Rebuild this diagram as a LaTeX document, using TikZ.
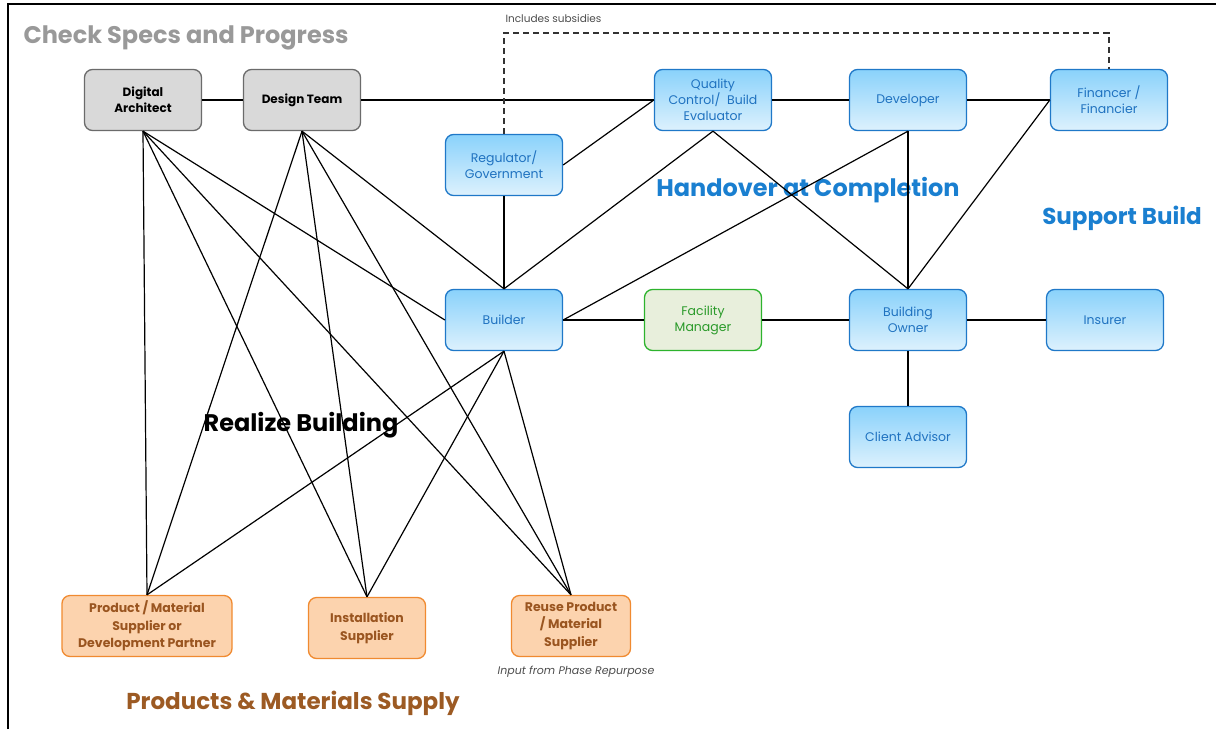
\documentclass[tikz,border=0pt]{standalone}
\usepackage{fontspec}
\setmainfont{Poppins}
\definecolor{bluefill1}{HTML}{8AD2FB}
\definecolor{bluefill2}{HTML}{DDF1FD}
\definecolor{blueline}{HTML}{1F78C8}
\definecolor{bluetext}{HTML}{1F72C0}
\definecolor{bigblue}{HTML}{1A7FD0}
\definecolor{grayfill}{HTML}{D9D9D9}
\definecolor{grayline}{HTML}{6B6B6B}
\definecolor{orfill}{HTML}{FCD3AE}
\definecolor{orline}{HTML}{F08A30}
\definecolor{ortext}{HTML}{9A5520}
\definecolor{grfill}{HTML}{E8EFDC}
\definecolor{grline}{HTML}{2DB32D}
\definecolor{grtext}{HTML}{2A9A2A}
\definecolor{brown}{HTML}{9C5A23}
\tikzset{
  box/.style={rounded corners=8pt, minimum width=117pt, minimum height=61pt, line width=1.3pt, align=center, inner sep=1pt, font=\fontsize{12.5}{16}\selectfont},
  bluebox/.style={box, draw=blueline, top color=bluefill1, bottom color=bluefill2, text=bluetext},
  graybox/.style={box, draw=grayline, fill=grayfill, text=black, font=\fontsize{12}{16}\selectfont\bfseries},
  orbox/.style={box, draw=orline, fill=orfill, text=ortext, font=\fontsize{12.5}{17.5}\selectfont\bfseries},
  grbox/.style={box, draw=grline, fill=grfill, text=grtext},
  conn/.style={line width=1.2pt, black},
  biglabel/.style={font=\fontsize{24}{28}\selectfont\bfseries}
}
\begin{document}
\begin{tikzpicture}[x=1pt,y=-1pt]
\useasboundingbox (0,0) rectangle (1216,729);
\draw[line width=2pt] (8,729) -- (8,4) -- (1216,4);

% nodes
\node[graybox] (da) at (143,100) {Digital\\Architect};
\node[graybox] (dt) at (302,100) {Design Team};
\node[bluebox] (qc) at (713,100) {Quality\\Control/\ \ Build\\Evaluator};
\node[bluebox] (dev) at (908,100) {Developer};
\node[bluebox] (fin) at (1109,100) {Financer /\\Financier};
\node[bluebox] (reg) at (504,165) {Regulator/\\Government};
\node[bluebox] (bld) at (504,320) {Builder};
\node[grbox] (fm) at (703,320) {Facility\\Manager};
\node[bluebox] (bo) at (908,320) {Building\\Owner};
\node[bluebox] (ins) at (1105,320) {Insurer};
\node[bluebox] (ca) at (908,437) {Client Advisor};
\node[orbox, minimum width=170pt] (pms) at (147,626) {Product / Material\\Supplier or\\Development Partner};
\node[orbox] (is) at (367,628) {Installation\\Supplier};
\node[orbox, minimum width=119pt] (rs) at (571,626) {Reuse Product\\/ Material\\Supplier};

% labels
\node[biglabel, text=gray!80, anchor=west] (l1) at (20,38) {Check Specs and Progress};
\node[biglabel, text=bigblue] (l2) at (808,190) {Handover at Completion};
\node[biglabel, text=bigblue, font=\fontsize{23}{27}\selectfont\bfseries] (l3) at (1122,218) {Support Build};
\node[biglabel, text=black] (l4) at (301,425) {Realize Building};
\node[biglabel, text=brown, font=\fontsize{23}{27}\selectfont\bfseries] (l5) at (293,703) {Products \& Materials Supply};
\node[font=\fontsize{10.5}{12}\selectfont, text=black!70, anchor=west] (l6) at (502,19) {Includes subsidies};
\node[font=\fontsize{11}{12}\selectfont\itshape, text=black!70] (l7) at (576,672) {Input from Phase Repurpose};

% connectors
\draw[conn] (da) -- (dt);
\draw[conn] (dt) -- (qc);
\draw[conn] (qc) -- (dev);
\draw[conn] (dev) -- (fin);
\draw[conn] (reg.east) -- (qc.west);
\draw[conn] (reg.south) -- (bld.north);
\draw[conn] (bld.north) -- (qc.south);
\draw[conn] (bld.east) -- (dev.south);
\draw[conn] (qc.south) -- (bo.north);
\draw[conn] (dev.south) -- (bo.north);
\draw[conn] (fin.west) -- (bo.north);
\draw[conn] (bld) -- (fm);
\draw[conn] (fm) -- (bo);
\draw[conn] (bo) -- (ins);
\draw[conn] (bo) -- (ca);
\foreach \t in {pms.north, bld.west, is.north, rs.north} \draw[conn] (da.south) -- (\t);
\foreach \t in {pms.north, is.north, rs.north, bld.north} \draw[conn] (dt.south) -- (\t);
\foreach \t in {pms.north, is.north, rs.north} \draw[conn] (bld.south) -- (\t);

\coordinate (dtop) at (504,33);
\draw[line width=1.2pt, black!80, dash pattern=on 6pt off 4pt] (reg.north) -- (reg.north |- dtop) -| (fin.north);
\end{tikzpicture}
\end{document}
